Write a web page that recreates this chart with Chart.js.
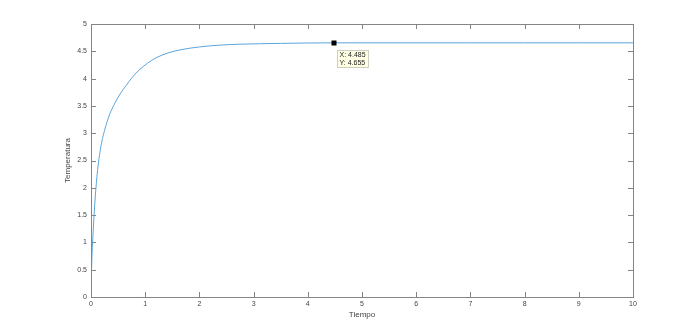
<!DOCTYPE html>
<html>
<head>
<meta charset="utf-8">
<script src="https://cdn.jsdelivr.net/npm/chart.js@4.4.0/dist/chart.umd.min.js"></script>
<style>
    html, body { margin: 0; padding: 0; background: #fff; }
    #wrap { width: 700px; height: 334px; }
</style>
</head>
<body>
<div id="wrap"><canvas id="tempChart" width="700" height="334"></canvas></div>
<script>
// valores
const tiempo = [0, 0.005, 0.01, 0.02, 0.03, 0.045, 0.06, 0.08, 0.10, 0.13, 0.165, 0.2, 0.25, 0.3, 0.35, 0.44, 0.55, 0.65, 0.75, 0.87, 1.04, 1.2, 1.42, 1.64, 2.0, 2.4, 2.75, 3.5, 4.485, 5, 6, 7, 8, 9, 10];
const temperatura = [0, 0.3, 0.5, 0.8, 1.0, 1.3, 1.55, 1.85, 2.1, 2.4, 2.65, 2.85, 3.05, 3.22, 3.36, 3.55, 3.74, 3.875, 4.01, 4.14, 4.28, 4.38, 4.47, 4.525, 4.58, 4.615, 4.63, 4.645, 4.655, 4.655, 4.655, 4.655, 4.655, 4.655, 4.655];

const xTicks = [0, 1, 2, 3, 4, 5, 6, 7, 8, 9, 10];
const yTicks = [0, 0.5, 1, 1.5, 2, 2.5, 3, 3.5, 4, 4.5, 5];

// punto del cursor de datos
const tipX = 4.485;
const tipY = 4.655;

const axisColor = '#858585';
const textColor = '#444444';
const fontFamily = '"Liberation Sans", Arial, sans-serif';

// ejes al estilo MATLAB: caja, marcas hacia dentro, etiquetas
const matlabAxes = {
    id: 'matlabAxes',
    afterDatasetsDraw(chart) {
        const { ctx, chartArea: a, scales: { x, y } } = chart;
        const tl = 5;
        ctx.save();
        ctx.strokeStyle = axisColor;
        ctx.lineWidth = 1;
        ctx.beginPath();
        xTicks.forEach(v => {
            const px = Math.round(x.getPixelForValue(v)) + 0.5;
            ctx.moveTo(px, a.bottom); ctx.lineTo(px, a.bottom - tl);
            ctx.moveTo(px, a.top); ctx.lineTo(px, a.top + tl);
        });
        yTicks.forEach(v => {
            const py = Math.round(y.getPixelForValue(v)) + 0.5;
            ctx.moveTo(a.left, py); ctx.lineTo(a.left + tl, py);
            ctx.moveTo(a.right, py); ctx.lineTo(a.right - tl, py);
        });
        ctx.stroke();
        ctx.strokeRect(Math.round(a.left) + 0.5, Math.round(a.top) + 0.5,
            Math.round(a.right - a.left), Math.round(a.bottom - a.top));

        ctx.fillStyle = textColor;
        ctx.font = '7px ' + fontFamily;
        ctx.textAlign = 'center';
        ctx.textBaseline = 'top';
        xTicks.forEach(v => ctx.fillText(String(v), x.getPixelForValue(v), a.bottom + 4));
        ctx.textAlign = 'right';
        ctx.textBaseline = 'middle';
        yTicks.forEach(v => ctx.fillText(String(v), a.left - 4, y.getPixelForValue(v)));

        ctx.font = '8px ' + fontFamily;
        ctx.textAlign = 'center';
        ctx.textBaseline = 'top';
        ctx.fillText('Tiempo', (a.left + a.right) / 2, a.bottom + 14);
        ctx.save();
        ctx.translate(a.left - 19, (a.top + a.bottom) / 2);
        ctx.rotate(-Math.PI / 2);
        ctx.textBaseline = 'bottom';
        ctx.fillText('Temperatura', 0, 0);
        ctx.restore();

        // cursor de datos
        const mx = x.getPixelForValue(tipX);
        const my = y.getPixelForValue(tipY);
        ctx.fillStyle = '#000';
        ctx.fillRect(Math.round(mx) - 2.5, Math.round(my) - 2.5, 5, 5);
        const bx = Math.round(mx) + 3.5, by = Math.round(my) + 7.5;
        ctx.fillStyle = '#ffffe6';
        ctx.strokeStyle = '#cfcfc0';
        ctx.fillRect(bx, by, 31, 17);
        ctx.strokeRect(bx, by, 31, 17);
        ctx.fillStyle = '#222';
        ctx.font = '7px ' + fontFamily;
        ctx.textAlign = 'left';
        ctx.textBaseline = 'middle';
        ctx.fillText('X: ' + tipX, bx + 2, by + 4.5);
        ctx.fillText('Y: ' + tipY, bx + 2, by + 12.5);
        ctx.restore();
    }
};

new Chart(document.getElementById('tempChart'), {
    type: 'line',
    data: {
        datasets: [{
            data: tiempo.map((t, i) => ({ x: t, y: temperatura[i] })),
            borderColor: '#5aa5da',
            borderWidth: 1,
            pointRadius: 0,
            fill: false,
            cubicInterpolationMode: 'monotone'
        }]
    },
    options: {
        responsive: false,
        animation: false,
        layout: {
            padding: { left: 91, right: 67, top: 24, bottom: 37 }
        },
        plugins: {
            legend: { display: false },
            tooltip: { enabled: false }
        },
        scales: {
            x: { type: 'linear', min: 0, max: 10, display: false },
            y: { type: 'linear', min: 0, max: 5, display: false }
        }
    },
    plugins: [matlabAxes]
});
</script>
</body>
</html>
